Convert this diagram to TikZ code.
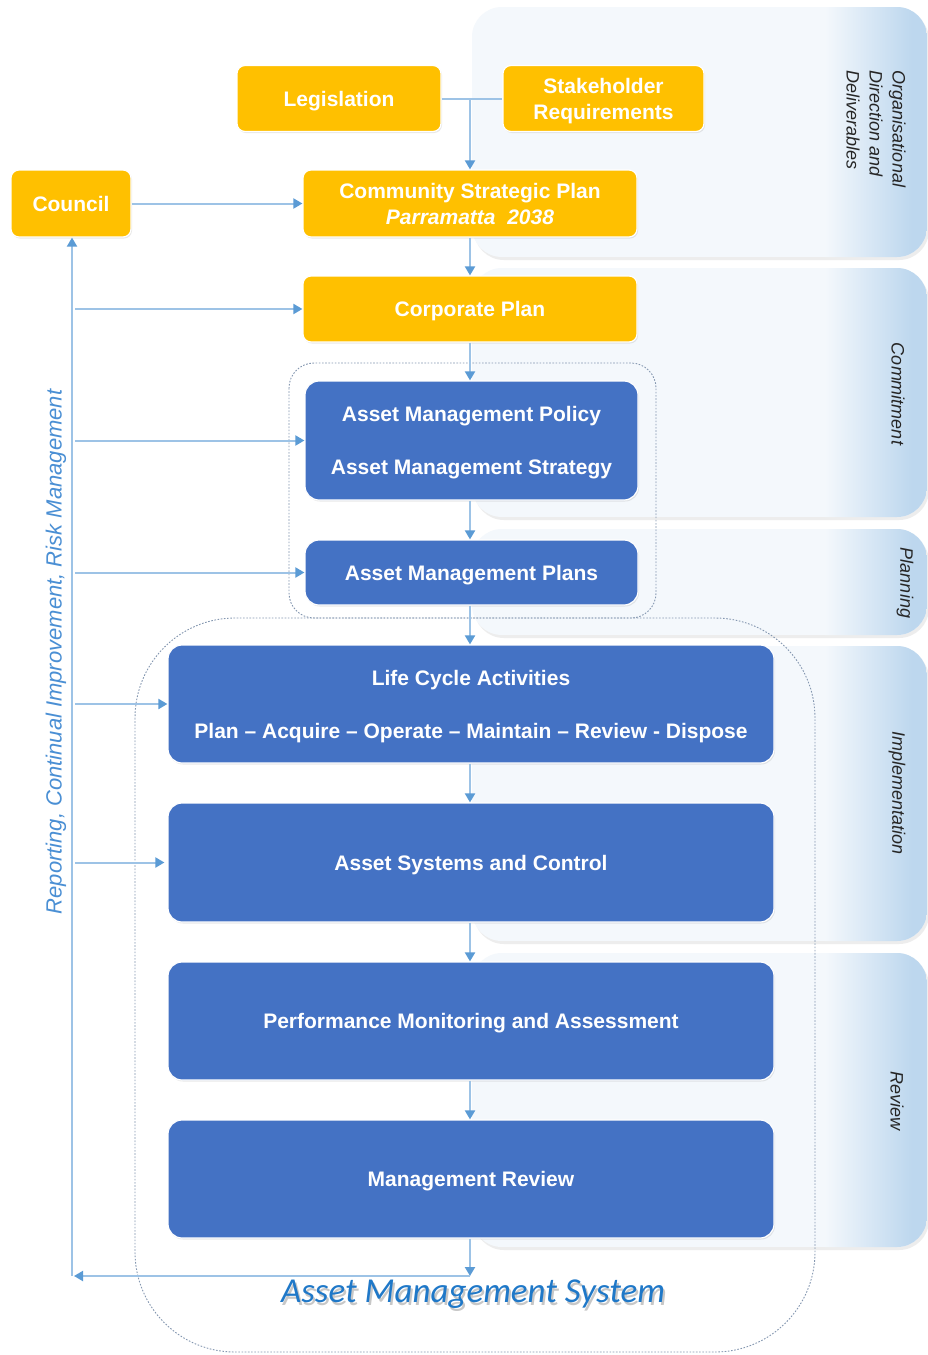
\documentclass[tikz,border=0pt]{standalone}
\usepackage{fontspec}
\setmainfont{Liberation Sans}
\newfontfamily\amsfont{Carlito}
\usetikzlibrary{arrows.meta,shadows}

\definecolor{boxyellow}{HTML}{FFC000}
\definecolor{boxblue}{HTML}{4472C4}
\definecolor{linkblue}{HTML}{9DC3E6}
\definecolor{tipblue}{HTML}{5B9BD5}
\definecolor{bandlight}{HTML}{F4F8FC}
\definecolor{banddark}{HTML}{BDD7EE}
\definecolor{groupline}{HTML}{8497B0}
\definecolor{sidetext}{HTML}{4A8FD4}
\definecolor{amstext}{HTML}{1F78C8}
\definecolor{labeltext}{HTML}{262626}

% light-blue band on the right, fading towards its right edge
\newcommand{\bandpanel}[2]{%
  \fill[black!7, rounded corners=30pt] (474,{#1+3}) rectangle (929,{#2+3});
  \begin{scope}
    \clip[rounded corners=30pt] (472,#1) rectangle (927,#2);
    \fill[bandlight] (472,#1) rectangle (927,#2);
    \shade[left color=bandlight, right color=banddark] (825,#1) rectangle (912,#2);
    \fill[banddark] (911.5,#1) rectangle (927,#2);
  \end{scope}}

\tikzset{
  boxtext/.style={font=\fontsize{21pt}{26pt}\selectfont\bfseries, text=white, align=center, text depth=0pt},
  ybox/.style={boxtext, fill=boxyellow, draw=white, line width=1.2pt, rounded corners=8pt,
    drop shadow={opacity=0.18, shadow xshift=1pt, shadow yshift=-1.5pt}},
  bbox/.style={boxtext, fill=boxblue, draw=white, line width=1.2pt, rounded corners=14pt,
    drop shadow={opacity=0.18, shadow xshift=1pt, shadow yshift=-1.5pt}},
  conn/.style={draw=linkblue, line width=2pt},
  arr/.style={conn, -{Triangle[length=9pt, width=10pt, color=tipblue]}},
  bandlabel/.style={font=\fontsize{18pt}{23pt}\selectfont\itshape, text=labeltext, align=left},
  group/.style={draw=groupline, line width=0.9pt, dash pattern=on 1.6pt off 1.6pt}
}

\begin{document}
\begin{tikzpicture}[x=1pt, y=-1pt]
\useasboundingbox (0,0) rectangle (928,1355);
\fill[white] (0,0) rectangle (928,1355);

% stage bands
\bandpanel{7}{257}
\bandpanel{268}{517}
\bandpanel{529}{635}
\bandpanel{646}{941}
\bandpanel{953}{1247}

\node[bandlabel, rotate=-90] (lblorg) at (876,129) {Organisational\\Direction and\\Deliverables};
\node[bandlabel, rotate=-90] (lblcom) at (898,394) {Commitment};
\node[bandlabel, rotate=-90] (lblpla) at (905,583) {Planning};
\node[bandlabel, rotate=-90] (lblimp) at (897,793) {Implementation};
\node[bandlabel, rotate=-90] (lblrev) at (897,1101) {Review};

% dotted groupings
\draw[group, rounded corners=25pt] (289,363) rectangle (656,618);
\draw[group, rounded corners=100pt] (135,618) rectangle (815,1352);

% direction boxes
\node[ybox, minimum width=204pt, minimum height=66pt] (leg) at (339,98.5) {Legislation};
\node[ybox, minimum width=201pt, minimum height=66pt] (stake) at (603.5,98.5) {Stakeholder\\Requirements};
\node[ybox, minimum width=120pt, minimum height=67pt] (council) at (71,203.5) {Council};
\node[ybox, minimum width=334pt, minimum height=67pt] (csp) at (470,203.5) {Community Strategic Plan\\\textit{Parramatta\ \ 2038}};
\node[ybox, minimum width=334pt, minimum height=66pt] (cp) at (470,309) {Corporate Plan};

% asset management boxes
\node[bbox, minimum width=333pt, minimum height=119pt] (pol) at (471.5,440.5) {Asset Management Policy\\[27pt]Asset Management Strategy};
\node[bbox, minimum width=333pt, minimum height=65pt] (plans) at (471.5,572.5) {Asset Management Plans};
\node[bbox, minimum width=606pt, minimum height=118pt] (life) at (471,704) {Life Cycle Activities\\[27pt]Plan -- Acquire -- Operate -- Maintain -- Review - Dispose};
\node[bbox, minimum width=606pt, minimum height=119pt] (sys) at (471,862.5) {Asset Systems and Control};
\node[bbox, minimum width=606pt, minimum height=118pt] (perf) at (471,1021) {Performance Monitoring and Assessment};
\node[bbox, minimum width=606pt, minimum height=118pt] (mr) at (471,1179) {Management Review};

% main flow
\draw[conn] (leg.east) -- (stake.west);
\draw[arr] (csp.north |- leg.east) -- (csp.north);
\draw[arr] (council.east) -- (csp.west);
\draw[arr] (csp.south) -- (cp.north);
\draw[arr] (cp.south) -- (pol.north -| cp.south);
\draw[arr] (pol.south -| cp.south) -- (plans.north -| cp.south);
\draw[arr] (plans.south -| cp.south) -- (life.north -| cp.south);
\draw[arr] (life.south -| cp.south) -- (sys.north -| cp.south);
\draw[arr] (sys.south -| cp.south) -- (perf.north -| cp.south);
\draw[arr] (perf.south -| cp.south) -- (mr.north -| cp.south);

% feedback loop
\coordinate (fb) at (72,1276);
\coordinate (fbdrop) at (470,1276);
\draw[arr] (mr.south -| cp.south) -- (fbdrop);
\draw[arr] (fbdrop) -- ([xshift=2pt]fb);
\draw[arr] (fb) -- (council.south -| fb);
\draw[arr] ([xshift=3pt]fb |- cp.west) -- (cp.west);
\draw[arr] ([xshift=3pt]fb |- pol.west) -- (pol.west);
\draw[arr] ([xshift=3pt]fb |- plans.west) -- (plans.west);
\draw[arr] ([xshift=3pt]fb |- life.west) -- (life.west);
\draw[arr] ([xshift=3pt]fb |- sys.west) -- ([xshift=-3pt]sys.west);

\node[rotate=90, font=\fontsize{22pt}{26pt}\selectfont\itshape, text=sidetext] (side) at (56,652) {Reporting, Continual Improvement, Risk Management};

% system title with soft shadow
\node[font=\fontsize{35pt}{40pt}\amsfont\itshape, text=black, opacity=0.22] (amsshadow) at (475,1297) {Asset Management System};
\node[font=\fontsize{35pt}{40pt}\amsfont\itshape, text=amstext] (ams) at (473,1294) {Asset Management System};
\end{tikzpicture}
\end{document}
